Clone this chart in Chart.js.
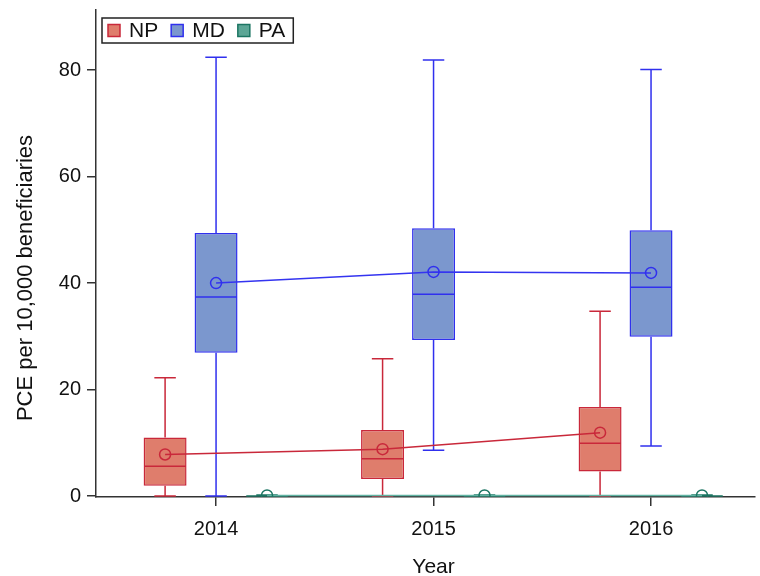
<!DOCTYPE html>
<html>
<head>
<meta charset="utf-8">
<script src="https://cdn.jsdelivr.net/npm/chart.js@4.4.0/dist/chart.umd.min.js"></script>
<style>
html,body{margin:0;padding:0;background:#fff;}
#wrap{width:760px;height:576px;}
</style>
</head>
<body>
<div id="wrap"><canvas id="c" width="760" height="576"></canvas></div>
<script>
// ---- data ----
const years = [2014, 2015, 2016];
const groupLabels = ['NP', 'MD', 'PA'];
const yTickValues = [0, 20, 40, 60, 80];
const xTitle = 'Year';
const yTitle = 'PCE per 10,000 beneficiaries';

const npMin    = [0, 0, 0];
const npQ1     = [1.9, 3.2, 4.6];
const npMedian = [5.6, 7.0, 9.9];
const npQ3     = [11.0, 12.4, 16.7];
const npMax    = [22.2, 25.8, 34.7];
const npMean   = [7.8, 8.8, 11.9];

const mdMin    = [0, 8.6, 9.4];
const mdQ1     = [26.9, 29.3, 29.9];
const mdMedian = [37.4, 37.9, 39.2];
const mdQ3     = [49.4, 50.3, 49.9];
const mdMax    = [82.4, 81.9, 80.1];
const mdMean   = [40.0, 42.1, 41.9];

const paMin    = [0, 0, 0];
const paQ1     = [0, 0, 0];
const paMedian = [0, 0, 0];
const paQ3     = [0.2, 0.2, 0.2];
const paMax    = [0.2, 0.2, 0.2];
const paMean   = [0.1, 0.1, 0.1];

// ---- styles ----
const FONT = "'Liberation Sans', Arial, Helvetica, sans-serif";
const styles = {
  NP: { fill: '#DF7D6C', line: '#C9283A', mean: '#C9283A' },
  MD: { fill: '#7B97CE', line: '#3030EE', mean: '#3434F0' },
  PA: { fill: '#5CA696', line: '#1C7563', mean: '#5FB3A2' }
};

function boxDataset(label, mn, q1, med, q3, mx, mean) {
  const st = styles[label];
  return {
    type: 'bar',
    label: label,
    data: years.map((yr, i) => ({ x: yr, y: [q1[i], q3[i]] })),
    backgroundColor: st.fill,
    borderColor: st.line,
    borderWidth: 1.5,
    borderSkipped: false,
    categoryPercentage: 0.703,
    barPercentage: 0.843,
    stats: { min: mn, median: med, max: mx, mean: mean },
    meanColor: st.mean
  };
}

const boxPlugin = {
  id: 'boxplotExtras',
  afterDatasetsDraw(chart) {
    const ctx = chart.ctx;
    const ys = chart.scales.y;
    const a = chart.chartArea;
    ctx.save();
    ctx.beginPath();
    ctx.rect(a.left, a.top - 2, a.right - a.left, a.bottom - a.top + 2);
    ctx.clip();
    // whiskers, caps, medians
    chart.data.datasets.forEach((ds, di) => {
      const meta = chart.getDatasetMeta(di);
      const s = ds.stats;
      ctx.strokeStyle = ds.borderColor;
      ctx.lineWidth = 1.5;
      meta.data.forEach((bar, i) => {
        const x = bar.x, w = bar.width, cap = w / 2;
        const q1 = ds.data[i].y[0], q3 = ds.data[i].y[1];
        const pMin = ys.getPixelForValue(s.min[i]);
        const pMax = ys.getPixelForValue(s.max[i]);
        const pQ1 = ys.getPixelForValue(q1);
        const pQ3 = ys.getPixelForValue(q3);
        const pMed = ys.getPixelForValue(s.median[i]);
        ctx.beginPath();
        ctx.moveTo(x, pQ3); ctx.lineTo(x, pMax);
        ctx.moveTo(x - cap / 2, pMax); ctx.lineTo(x + cap / 2, pMax);
        ctx.moveTo(x, pQ1); ctx.lineTo(x, pMin);
        ctx.moveTo(x - cap / 2, pMin); ctx.lineTo(x + cap / 2, pMin);
        ctx.moveTo(x - w / 2 + 0.75, pMed); ctx.lineTo(x + w / 2 - 0.75, pMed);
        ctx.stroke();
      });
    });
    // mean lines and circles
    chart.data.datasets.forEach((ds, di) => {
      const meta = chart.getDatasetMeta(di);
      const s = ds.stats;
      ctx.strokeStyle = ds.meanColor;
      ctx.lineWidth = 1.5;
      const pts = meta.data.map((bar, i) => [bar.x, ys.getPixelForValue(s.mean[i])]);
      ctx.beginPath();
      pts.forEach((p, i) => {
        if (i === 0) ctx.moveTo(p[0], p[1]); else ctx.lineTo(p[0], p[1]);
      });
      ctx.stroke();
      ctx.strokeStyle = ds.borderColor;
      pts.forEach(p => {
        ctx.beginPath();
        ctx.arc(p[0], p[1], 5.5, 0, Math.PI * 2);
        ctx.stroke();
      });
    });
    ctx.restore();
  },
  afterDraw(chart) {
    const ctx = chart.ctx;
    const a = chart.chartArea;
    ctx.save();
    // y axis title
    ctx.fillStyle = '#111';
    ctx.font = '22px ' + FONT;
    ctx.textAlign = 'center';
    ctx.textBaseline = 'middle';
    ctx.translate(26, a.top + 268);
    ctx.rotate(-Math.PI / 2);
    ctx.fillText(yTitle, 0, 0);
    ctx.restore();

    ctx.save();
    ctx.fillStyle = '#111';
    ctx.font = '21px ' + FONT;
    ctx.textAlign = 'center';
    ctx.textBaseline = 'middle';
    ctx.fillText(xTitle, chart.scales.x.getPixelForValue(years[1]), 567);
    ctx.restore();

    // legend
    ctx.save();
    ctx.font = '21px ' + FONT;
    ctx.textBaseline = 'middle';
    const lx = a.left + 6, ly = a.top + 8, lh = 25;
    let x = lx + 6;
    const cy = ly + lh / 2;
    const items = chart.data.datasets.map(ds => ({ label: ds.label, fill: ds.backgroundColor, line: ds.borderColor }));
    items.forEach(it => {
      ctx.fillStyle = it.fill;
      ctx.fillRect(x, cy - 6, 12, 12);
      ctx.strokeStyle = it.line;
      ctx.lineWidth = 1.5;
      ctx.strokeRect(x, cy - 6, 12, 12);
      ctx.fillStyle = '#111';
      ctx.textAlign = 'left';
      ctx.fillText(it.label, x + 21, cy + 1);
      x += 21 + ctx.measureText(it.label).width + 13;
    });
    ctx.strokeStyle = '#222';
    ctx.lineWidth = 1.5;
    ctx.strokeRect(lx, ly, x - 13 + 8 - lx, lh);
    ctx.restore();
  }
};

const chart = new Chart(document.getElementById('c'), {
  type: 'bar',
  data: {
    datasets: [
      boxDataset('NP', npMin, npQ1, npMedian, npQ3, npMax, npMean),
      boxDataset('MD', mdMin, mdQ1, mdMedian, mdQ3, mdMax, mdMean),
      boxDataset('PA', paMin, paQ1, paMedian, paQ3, paMax, paMean)
    ]
  },
  options: {
    responsive: false,
    devicePixelRatio: 1,
    animation: false,
    layout: { padding: { top: 10, right: 5, left: 0, bottom: 0 } },
    plugins: { legend: { display: false }, tooltip: { enabled: false } },
    scales: {
      x: {
        type: 'linear',
        min: 2013.448,
        max: 2016.478,
        offset: false,
        grid: { offset: false, drawOnChartArea: false, drawTicks: true, tickLength: 9, color: '#333', lineWidth: 1.5 },
        border: { display: true, color: '#333', width: 1.5 },
        ticks: {
          stepSize: 1,
          includeBounds: false,
          autoSkip: false,
          maxRotation: 0,
          padding: 11,
          color: '#111',
          font: { family: FONT, size: 20 },
          callback: v => String(v)
        },
        afterFit: s => { s.height = 79; s.paddingLeft = 0; s.paddingRight = 0; }
      },
      y: {
        min: -0.19,
        max: 91.3,
        grid: { offset: false, drawOnChartArea: false, drawTicks: true, tickLength: 9, color: '#333', lineWidth: 1.5 },
        border: { display: true, color: '#333', width: 1.5 },
        afterBuildTicks: s => { s.ticks = yTickValues.map(v => ({ value: v })); },
        ticks: {
          padding: 6,
          color: '#111',
          font: { family: FONT, size: 20 }
        },
        afterFit: s => { s.width = 96; s.paddingTop = 0; s.paddingBottom = 0; }
      }
    }
  },
  plugins: [boxPlugin]
});
</script>
</body>
</html>
